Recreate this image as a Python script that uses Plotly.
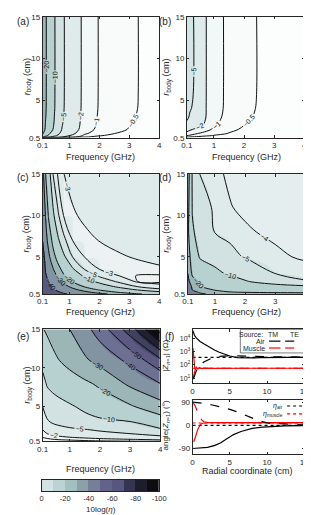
import plotly.graph_objects as go

W, H = 311, 515
FONT = "Liberation Sans, Arial, sans-serif"
AXC = "#262626"

# ---------------- data: contour fields 10log(eta) ----------------
F_AB = [0.1, 0.2, 0.35, 0.5, 0.75, 1.0, 1.5, 2.0, 2.5, 3.0, 3.5, 4.0]
R_AB = [0.5, 0.6, 0.75, 1.0, 1.5, 2.0, 3.0, 4.0, 6.0, 15.0]
Z_A = [
    [-0.3, -0.2, -0.15, -0.1, -0.08, -0.05, -0.03, -0.02, -0.02, -0.01, -0.01, -0.01],
    [-10.8, -7.56, -5.04, -3.67, -2.02, -1.30, -0.56, -0.34, -0.26, -0.20, -0.17, -0.14],
    [-16.5, -11.55, -7.7, -5.61, -3.08, -1.98, -0.85, -0.52, -0.40, -0.31, -0.25, -0.22],
    [-21.0, -14.7, -9.8, -7.14, -3.92, -2.52, -1.09, -0.67, -0.50, -0.39, -0.32, -0.28],
    [-25.8, -18.1, -12.0, -8.77, -4.82, -3.10, -1.33, -0.82, -0.62, -0.48, -0.40, -0.34],
    [-27.3, -19.1, -12.7, -9.28, -5.10, -3.28, -1.41, -0.86, -0.66, -0.51, -0.42, -0.36],
    [-28.8, -20.2, -13.4, -9.79, -5.38, -3.46, -1.49, -0.91, -0.69, -0.54, -0.44, -0.38],
    [-29.7, -20.8, -13.9, -10.1, -5.54, -3.56, -1.53, -0.94, -0.71, -0.55, -0.46, -0.40],
    [-30.0, -21.0, -14.0, -10.2, -5.6, -3.6, -1.55, -0.95, -0.72, -0.56, -0.46, -0.40],
    [-30.0, -21.0, -14.0, -10.2, -5.6, -3.6, -1.55, -0.95, -0.72, -0.56, -0.46, -0.40],
]
Z_B = [
    [-0.2, -0.15, -0.12, -0.1, -0.08, -0.06, -0.05, -0.04, -0.03, -0.03, -0.02, -0.02],
    [-0.55, -0.5, -0.45, -0.4, -0.34, -0.3, -0.24, -0.2, -0.17, -0.15, -0.13, -0.12],
    [-1.0, -0.9, -0.78, -0.68, -0.55, -0.47, -0.37, -0.3, -0.26, -0.23, -0.2, -0.18],
    [-1.56, -1.3, -1.1, -0.95, -0.75, -0.62, -0.48, -0.39, -0.33, -0.28, -0.25, -0.22],
    [-2.6, -2.2, -1.85, -1.6, -1.2, -0.88, -0.58, -0.45, -0.37, -0.32, -0.28, -0.25],
    [-4.0, -3.3, -2.7, -2.3, -1.75, -1.08, -0.68, -0.5, -0.41, -0.35, -0.31, -0.28],
    [-5.8, -4.6, -3.9, -3.0, -1.93, -1.25, -0.76, -0.56, -0.45, -0.38, -0.33, -0.29],
    [-7.0, -5.3, -4.4, -3.2, -1.95, -1.36, -0.77, -0.59, -0.47, -0.39, -0.33, -0.29],
    [-8.6, -6.5, -4.55, -3.28, -1.97, -1.38, -0.78, -0.6, -0.48, -0.4, -0.34, -0.3],
    [-9.0, -6.8, -4.6, -3.3, -1.97, -1.38, -0.78, -0.6, -0.48, -0.4, -0.34, -0.3],
]
F_C = [0.1, 0.2, 0.3, 0.45, 0.6, 0.8, 1.1, 1.5, 2.0, 2.7, 3.3, 4.0]
R_C = [0.5, 0.7, 1.0, 1.4, 2.0, 2.7, 3.5, 5.0, 7.0, 10.0, 15.0]
Z_C = [
    [-61.6, -57.6, -54.0, -49.5, -45.5, -41.2, -38.3, -35.7, -32.3, -26.5, -20.6, -17.2],
    [-60.3, -55.1, -51.1, -45.6, -41.3, -38.6, -36.0, -32.4, -27.1, -19.1, -15.7, -11.7],
    [-58.5, -52.3, -47.0, -41.2, -38.6, -36.2, -32.6, -26.9, -19.2, -13.8, -9.5, -5.83],
    [-56.3, -48.9, -43.2, -38.6, -36.3, -33.1, -27.7, -19.3, -14.2, -8.08, -4.69, -3.30],
    [-53.5, -44.9, -39.4, -36.2, -33.0, -28.2, -19.5, -14.1, -8.16, -4.04, -2.75, -2.70],
    [-50.8, -40.9, -37.6, -33.5, -29.2, -21.2, -15.3, -8.85, -4.40, -2.92, -2.78, -2.77],
    [-47.9, -39.0, -35.6, -30.6, -23.4, -17.2, -10.7, -4.87, -2.98, -2.891, -2.926, -2.966],
    [-43.9, -36.7, -32.1, -23.2, -17.0, -11.2, -4.97, -2.975, -2.916, -2.978, -3.024, -3.069],
    [-39.7, -33.7, -26.7, -17.1, -11.4, -5.71, -2.995, -2.941, -3.007, -3.073, -3.095, -3.121],
    [-37.7, -29.4, -18.9, -11.2, -5.54, -2.985, -2.971, -3.041, -3.089, -3.125, -3.142, -3.161],
    [-34.4, -19.97, -12.74, -4.85, -2.977, -2.995, -3.078, -3.118, -3.142, -3.168, -3.182, -3.198],
]
F_DE = [0.1, 0.25, 0.5, 1.0, 1.5, 2.0, 3.0, 4.0]
R_DE = [0.5, 0.75, 1.0, 1.5, 2.0, 3.0, 5.0, 8.0, 11.0, 15.0]
Z_D = [
    [-46, -38, -32, -27, -25, -24, -23.2, -23],
    [-42, -34, -28, -22.5, -20, -19, -18.3, -18],
    [-39, -30, -24, -19.5, -17.5, -16, -14, -13],
    [-36, -28, -20, -17.5, -15, -13.5, -11.5, -10],
    [-33, -24, -18, -16, -13.4, -10.5, -7.3, -5.1],
    [-30, -18, -15.5, -11.5, -9, -7.5, -4.95, -4.6],
    [-24, -16, -9.3, -7.6, -5.6, -4.85, -4.25, -3.8],
    [-22, -10.8, -7.6, -4.9, -4.5, -4.15, -3.75, -3.55],
    [-23, -9.6, -6.3, -4.6, -4.05, -3.8, -3.5, -3.35],
    [-25, -9.1, -4.96, -4.2, -3.85, -3.65, -3.4, -3.25],
]
Z_E = [
    [-0.3, -0.4, -0.5, -0.6, -0.7, -0.8, -0.9, -1.0],
    [-0.7, -0.8, -1.0, -1.2, -1.4, -1.6, -1.9, -2.3],
    [-1.0, -1.2, -1.5, -1.9, -2.2, -2.5, -3.3, -4.2],
    [-1.5, -2.0, -2.5, -3.2, -3.7, -4.2, -5.0, -6.0],
    [-2.0, -2.8, -3.5, -4.3, -4.8, -5.4, -7.0, -9.0],
    [-3.5, -4.6, -5.6, -6.8, -7.8, -8.6, -9.6, -14.6],
    [-5.0, -6.5, -7.6, -9.2, -11.3, -13.8, -18.8, -26.0],
    [-8.0, -10.6, -12.2, -15.2, -18.3, -21.7, -32.0, -40.0],
    [-12.0, -14.5, -18.5, -23.4, -28.6, -33.2, -42.4, -58.0],
    [-19.5, -21.5, -24.3, -30.0, -36.8, -44.5, -64.8, -94.0],
]
LEV_A = [-20, -10, -5, -2, -1, -0.5]
LEV_B = [-5, -2, -1, -0.5]
LEV_C = [-40, -30, -20, -10, -5, -3, -2.8]
LEV_D = [-30, -20, -10, -5, -4]
LEV_E = [-90, -80, -70, -60, -50, -40, -30, -20, -10, -5, -2, -1]

FREQ_TICKS = [0.1, 1, 2, 3, 4]
RB_TICKS = [0.5, 5, 10, 15]
CB_CENTERS = [-5, -15, -25, -35, -45, -55, -65, -75, -85, -95]
CB_TICKS = [0, -20, -40, -60, -80, -100]

# ---------------- data: panel (f) ----------------
ETA_AIR = 377.0
LOG_ETA_MUSCLE = 1.75
ANG_ETA_AIR = 0.0
ANG_ETA_MUSCLE = 9.0

R_TM_AIR = [0.02, 0.1, 0.25, 0.5, 0.75, 1, 1.5, 2, 2.5, 3, 3.5, 4, 5, 6, 7, 8, 9, 10, 11, 12, 13, 14, 15]
LZ_TM_AIR = [4.62, 4.45, 4.25, 4.05, 3.9, 3.78, 3.6, 3.42, 3.27, 3.12, 2.98, 2.86, 2.68, 2.56, 2.52, 2.53,
             2.55, 2.57, 2.56, 2.57, 2.58, 2.57, 2.57]
R_TE_AIR = [0.15, 0.25, 0.5, 0.75, 1, 1.5, 2, 2.5, 3, 3.5, 4, 5, 6, 7, 8, 9, 10, 11, 12, 13, 14, 15]
LZ_TE_AIR = [1.0, 1.2, 1.55, 1.8, 1.98, 2.22, 2.38, 2.5, 2.58, 2.64, 2.67, 2.7, 2.68, 2.66, 2.65, 2.64,
             2.63, 2.62, 2.62, 2.61, 2.61, 2.6]
R_TM_MUS = [0.05, 0.1, 0.15, 0.2, 0.3, 0.4, 0.5, 0.7, 0.9, 1.2, 1.5, 2, 3, 5, 8, 15]
LZ_TM_MUS = [3.3, 2.9, 2.5, 2.2, 1.7, 1.6, 1.85, 1.68, 1.8, 1.72, 1.76, 1.74, 1.75, 1.75, 1.75, 1.75]
R_TE_MUS = [0.05, 0.15, 0.3, 0.5, 0.8, 1.2, 2, 3, 5, 8, 15]
LZ_TE_MUS = [0.9, 1.25, 1.55, 1.7, 1.77, 1.74, 1.75, 1.75, 1.75, 1.75, 1.75]

RA_TM_AIR = [0, 1, 2, 3, 3.8, 4.5, 5.5, 6.5, 7.2, 8, 9.4, 11, 12.4, 15]
A_TM_AIR = [-90, -89, -86, -78, -68, -54, -36, -24, -17, -12, -7, -4, -2, -1]
RA_TE_AIR = [0, 0.5, 1, 1.6, 2.5, 3.8, 5, 5.9, 7, 8, 9, 10.2, 12.4, 15]
A_TE_AIR = [90, 89, 88, 85, 80, 72, 62, 53, 40, 28, 17, 8, 4, 2]
RA_TM_MUS = [0.15, 0.3, 0.5, 0.7, 0.9, 1.1, 1.4, 1.8, 2.5, 4, 8, 15]
A_TM_MUS = [-65, -55, -35, -15, -3, 4, 8, 10, 10.5, 10.5, 10.5, 10.5]
RA_TE_MUS = [0.05, 0.3, 0.6, 0.9, 1.2, 1.5, 2, 3, 5, 15]
A_TE_MUS = [88, 78, 58, 38, 22, 14, 11, 10.5, 10.5, 10.5]

# ---------------- colormap ----------------
CM_V = [-100, -95, -85, -75, -65, -55, -45, -35, -25, -15, -5, 0]
CM_C = ['#000000', '#050505', '#17161e', '#2c2b43', '#55547c', '#62608a', '#768199',
        '#8fa5ab', '#a9c8c6', '#c4dada', '#dfeaea', '#ffffff']


def _rgb(h):
    h = h.lstrip('#')
    return [int(h[i:i + 2], 16) for i in (0, 2, 4)]


def cmap(v):
    v = max(-100.0, min(0.0, v))
    for i in range(len(CM_V) - 1):
        if CM_V[i] <= v <= CM_V[i + 1]:
            t = (v - CM_V[i]) / (CM_V[i + 1] - CM_V[i])
            a, b = _rgb(CM_C[i]), _rgb(CM_C[i + 1])
            return 'rgb(%d,%d,%d)' % tuple(round(a[k] + (b[k] - a[k]) * t) for k in range(3))
    return CM_C[-1]


def stepped(levels, z):
    L = sorted(set(levels))
    zmin = min(min(r) for r in z)
    bounds = [-100.0] + L + [0.0]
    cols = [cmap(zmin)] + [cmap(l) for l in L]
    cs = []
    for i, c in enumerate(cols):
        cs.append([(bounds[i] + 100) / 100, c])
        cs.append([(bounds[i + 1] + 100) / 100, c])
    return cs


CB_COLORS = [cmap(v) for v in CB_CENTERS]
CB_CS = [[i / 9, c] for i, c in enumerate(reversed(CB_COLORS))]


def px(x):
    return x / W


def py(y):
    return 1 - y / H


fig = go.Figure()

BOX = {
    'a': (30, 152, 5, 128),
    'b': (181, 304, 5, 128),
    'c': (30, 152, 165, 287),
    'd': (182, 305, 165, 287),
    'e': (30, 153, 323, 437),
    'f1': (187, 304, 323, 378),
    'f2': (187, 304, 395, 450),
    'cb': (29, 152, 476, 488),
}
AXN = {'a': 1, 'b': 2, 'c': 3, 'd': 4, 'e': 5, 'f1': 6, 'f2': 7, 'cb': 8}

common = dict(showline=True, linecolor=AXC, linewidth=0.8, mirror='ticks', ticks='inside',
              ticklen=2.5, tickcolor=AXC, tickwidth=0.6, showgrid=False, zeroline=False,
              tickfont=dict(size=8, family=FONT, color=AXC))

layout_axes = {}
for k, (x0, x1, y0, y1) in BOX.items():
    n = AXN[k]
    xs = 'xaxis' if n == 1 else 'xaxis%d' % n
    ys = 'yaxis' if n == 1 else 'yaxis%d' % n
    layout_axes[xs] = dict(common, domain=[px(x0), px(x1)], anchor='y' if n == 1 else 'y%d' % n)
    layout_axes[ys] = dict(common, domain=[py(y1), py(y0)], anchor='x' if n == 1 else 'x%d' % n)


def axref(k):
    n = AXN[k]
    return ('x' if n == 1 else 'x%d' % n), ('y' if n == 1 else 'y%d' % n)


panels = [('a', F_AB, R_AB, Z_A, LEV_A), ('b', F_AB, R_AB, Z_B, LEV_B),
          ('c', F_C, R_C, Z_C, LEV_C), ('d', F_DE, R_DE, Z_D, LEV_D),
          ('e', F_DE, R_DE, Z_E, LEV_E)]

for k, fx, ry, z, lev in panels:
    xr, yr = axref(k)
    fig.add_trace(go.Heatmap(x=fx, y=ry, z=z, zmin=-100, zmax=0, colorscale=stepped(lev, z),
                             zsmooth='best', showscale=False, hoverinfo='skip', xaxis=xr, yaxis=yr))
    for L in lev:
        fig.add_trace(go.Contour(
            x=fx, y=ry, z=z, autocontour=False,
            contours=dict(start=L, end=L, size=1, coloring='none', showlabels=True,
                          labelfont=dict(size=7, family=FONT, color='#111111'), labelformat='.2~f'),
            line=dict(color='#111111', width=1), showscale=False, hoverinfo='skip',
            xaxis=xr, yaxis=yr))
    n = AXN[k]
    xs = 'xaxis' if n == 1 else 'xaxis%d' % n
    ys = 'yaxis' if n == 1 else 'yaxis%d' % n
    layout_axes[xs].update(range=[0.1, 4], tickvals=FREQ_TICKS, ticktext=[str(t) for t in FREQ_TICKS])
    layout_axes[ys].update(range=[0.5, 15], tickvals=RB_TICKS, ticktext=[str(t) for t in RB_TICKS])

# ---- panel f top ----
xr, yr = axref('f1')
RED = '#ff0000'
fig.add_trace(go.Scatter(x=[0, 15], y=[ETA_AIR, ETA_AIR], mode='lines',
                         line=dict(color='black', width=1.2, dash='dot'), xaxis=xr, yaxis=yr))
fig.add_trace(go.Scatter(x=[0, 15], y=[10 ** LOG_ETA_MUSCLE] * 2, mode='lines',
                         line=dict(color=RED, width=1.2, dash='dot'), xaxis=xr, yaxis=yr))
for rr, lz, col, ds in [(R_TE_MUS, LZ_TE_MUS, RED, 'dash'), (R_TM_MUS, LZ_TM_MUS, RED, 'solid'),
                        (R_TE_AIR, LZ_TE_AIR, 'black', 'dash'), (R_TM_AIR, LZ_TM_AIR, 'black', 'solid')]:
    fig.add_trace(go.Scatter(x=rr, y=[10 ** v for v in lz], mode='lines',
                             line=dict(color=col, width=1.2, dash=ds), xaxis=xr, yaxis=yr))
layout_axes['xaxis6'].update(range=[0, 15], tickvals=[0, 5, 10, 15])
layout_axes['yaxis6'].update(type='log', range=[0.6, 4.7], tickvals=[10, 100, 1000, 10000],
                             ticktext=['10<sup>1</sup>', '10<sup>2</sup>', '10<sup>3</sup>', '10<sup>4</sup>'],
                             tickfont=dict(size=7, family=FONT, color=AXC))

# ---- panel f bottom ----
xr, yr = axref('f2')
fig.add_trace(go.Scatter(x=[0, 15], y=[ANG_ETA_AIR] * 2, mode='lines',
                         line=dict(color='black', width=1.2, dash='dot'), xaxis=xr, yaxis=yr))
fig.add_trace(go.Scatter(x=[0, 15], y=[ANG_ETA_MUSCLE] * 2, mode='lines',
                         line=dict(color=RED, width=1.2, dash='dot'), xaxis=xr, yaxis=yr))
for rr, aa, col, ds in [(RA_TE_MUS, A_TE_MUS, RED, 'dash'), (RA_TM_MUS, A_TM_MUS, RED, 'solid'),
                        (RA_TE_AIR, A_TE_AIR, 'black', 'dash'), (RA_TM_AIR, A_TM_AIR, 'black', 'solid')]:
    fig.add_trace(go.Scatter(x=rr, y=aa, mode='lines', line=dict(color=col, width=1.2, dash=ds),
                             xaxis=xr, yaxis=yr))
layout_axes['xaxis7'].update(range=[0, 15], tickvals=[0, 5, 10, 15])
layout_axes['yaxis7'].update(range=[-112, 98], tickvals=[-90, 0, 90], ticktext=['-90', '0', '90'])

# ---- colorbar (10 discrete blocks) ----
xr, yr = axref('cb')
fig.add_trace(go.Heatmap(x=CB_CENTERS, y=[0], z=[CB_CENTERS], zmin=-100, zmax=0, colorscale=CB_CS,
                         showscale=False, hoverinfo='skip', xaxis=xr, yaxis=yr))
layout_axes['xaxis8'].update(range=[0, -100], tickvals=CB_TICKS, ticktext=[str(t) for t in CB_TICKS],
                             ticks='', mirror=True, tickfont=dict(size=7.5, family=FONT, color=AXC))
layout_axes['yaxis8'].update(range=[-0.5, 0.5], showticklabels=False, ticks='', mirror=True)

# ---------------- annotations ----------------
ann = []


def text(x, y, s, size=9, xa='center', ya='middle', angle=0):
    ann.append(dict(x=px(x), y=py(y), xref='paper', yref='paper', text=s, showarrow=False,
                    xanchor=xa, yanchor=ya, textangle=angle,
                    font=dict(size=size, family=FONT, color=AXC)))


for lab, x, y in [('(a)', 1, 10), ('(b)', 150, 10), ('(c)', 1, 168), ('(d)', 150, 168),
                  ('(e)', 1, 330), ('(f)', 156, 330)]:
    text(x, y, lab, size=10, xa='left')
for x, y in [(91, 148), (243, 148), (91, 305), (243, 305), (91, 465)]:
    text(x, y, 'Frequency (GHz)', size=9)
RB = '<i>r</i><sub>body</sub> (cm)'
for x, y in [(14, 66), (160, 66), (14, 226), (160, 226), (15, 380)]:
    text(x, y, RB, size=9, angle=-90)
text(159, 350, '|<i>Z</i><sub><i>n</i>=1</sub>| (Ω)', size=8, angle=-90)
text(159, 421, 'angle(<i>Z</i><sub><i>n</i>=1</sub>) (°)', size=8, angle=-90)
text(245, 467, 'Radial coordinate (cm)', size=9)
text(91, 506, '10log(<i>η</i>)', size=8)

# legend f-top
text(263, 328, 'Source:', size=7, xa='right')
text(271, 328, 'TM', size=7)
text(294, 328, 'TE', size=7)
text(265, 335, 'Air', size=7, xa='right')
text(265, 342, 'Muscle', size=7, xa='right')
# legend f-bottom
text(284, 401, '<i>η</i><sub>air</sub>', size=7, xa='right')
text(284, 409, '<i>η</i><sub>muscle</sub>', size=7, xa='right')

shapes = [dict(type='rect', xref='paper', yref='paper', x0=px(237), x1=px(304), y0=py(347), y1=py(323),
               line=dict(color=AXC, width=0.6), fillcolor='white', layer='above')]
for x0, x1, y, col, ds in [(267, 279, 335, 'black', 'solid'), (284, 302, 335, 'black', 'dash'),
                           (267, 279, 342, RED, 'solid'), (284, 302, 342, RED, 'dash'),
                           (286, 302, 401, 'black', 'dot'), (286, 302, 409, RED, 'dot')]:
    shapes.append(dict(type='line', xref='paper', yref='paper', x0=px(x0), x1=px(x1), y0=py(y), y1=py(y),
                       line=dict(color=col, width=1.2, dash=ds), layer='above'))

fig.update_layout(width=W, height=H, margin=dict(l=0, r=0, t=0, b=0), showlegend=False,
                  paper_bgcolor='white', plot_bgcolor='white', annotations=ann, shapes=shapes,
                  font=dict(family=FONT, size=8, color=AXC), **layout_axes)

fig.write_html("out.html")
